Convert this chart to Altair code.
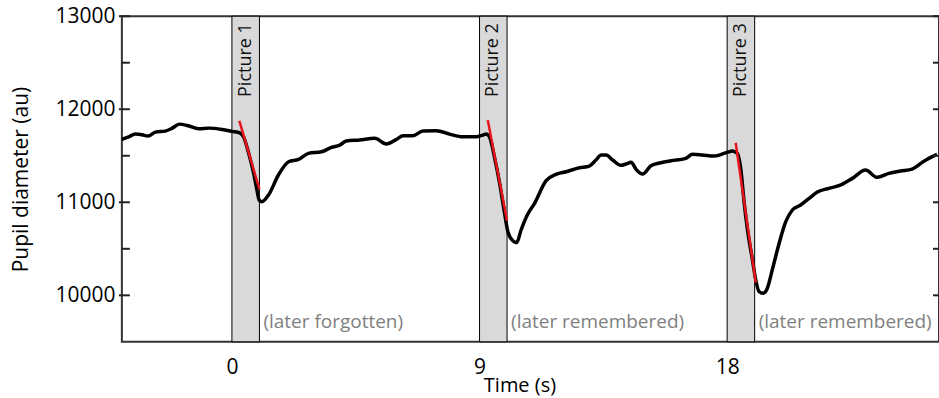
import altair as alt
import pandas as pd

# ---- data ----
time_s = [-4.0, -3.75, -3.51, -3.27, -3.05, -2.78, -2.42, -2.18, -1.91, -1.63,
          -1.21, -0.85, -0.36, 0.0, 0.30, 0.42, 0.61, 0.79, 0.91, 0.99,
          1.09, 1.33, 1.69, 2.06, 2.42, 2.78, 3.26, 3.62, 3.92, 4.16,
          4.64, 5.19, 5.61, 5.98, 6.22, 6.58, 6.94, 7.43, 7.91, 8.39,
          8.88, 9.12, 9.24, 9.36, 9.54, 9.73, 9.91, 10.03, 10.21, 10.35,
          10.51, 10.75, 11.00, 11.42, 11.78, 12.15, 12.63, 12.99, 13.23, 13.42,
          13.60, 13.84, 14.14, 14.32, 14.51, 14.69, 14.93, 15.23, 15.59, 15.96,
          16.50, 16.74, 17.10, 17.53, 18.01, 18.19, 18.37, 18.50, 18.62, 18.74,
          18.92, 19.04, 19.16, 19.31, 19.46, 19.64, 19.89, 20.13, 20.37, 20.67,
          20.98, 21.28, 21.70, 22.06, 22.55, 23.03, 23.45, 23.88, 24.30, 24.72,
          25.09, 25.33, 25.63]
pupil_au = [11676, 11704, 11733, 11726, 11712, 11754, 11765, 11794, 11840, 11826,
            11790, 11797, 11783, 11762, 11744, 11704, 11526, 11311, 11132, 11024,
            11006, 11078, 11293, 11436, 11461, 11526, 11543, 11590, 11615, 11658,
            11669, 11687, 11626, 11676, 11715, 11715, 11765, 11768, 11733, 11704,
            11704, 11722, 11733, 11704, 11489, 11204, 10882, 10684, 10587, 10566,
            10702, 10871, 10989, 11232, 11300, 11328, 11371, 11389, 11454, 11508,
            11508, 11454, 11397, 11411, 11429, 11354, 11304, 11393, 11425, 11446,
            11472, 11515, 11508, 11497, 11537, 11550, 11526, 11347, 10989, 10702,
            10380, 10165, 10040, 10023, 10076, 10273, 10560, 10791, 10917, 10971,
            11043, 11110, 11150, 11178, 11257, 11347, 11268, 11311, 11336, 11357,
            11429, 11472, 11515]

fit_picture = ["Picture 1", "Picture 1", "Picture 2", "Picture 2", "Picture 3", "Picture 3"]
fit_time = [0.27, 1.00, 9.30, 10.00, 18.31, 19.04]
fit_pupil = [11876, 11140, 11883, 10802, 11640, 10137]

band_labels = ["Picture 1", "Picture 2", "Picture 3"]
band_start = [0, 9, 18]
band_end = [1, 10, 19]
band_notes = ["(later forgotten)", "(later remembered)", "(later remembered)"]

x_tick_values = [0, 9, 18]
y_major_ticks = [10000, 11000, 12000, 13000]
y_minor_ticks = [10500, 11500, 12500]
x_domain = [-4, 25.7]
y_domain = [9500, 13000]

W, H = 818, 326
FONT = "Open Sans"

curve = pd.DataFrame({"t": time_s, "p": pupil_au})
fits = pd.DataFrame({"pic": fit_picture, "t": fit_time, "p": fit_pupil})
bands = pd.DataFrame({"label": band_labels, "start": band_start, "end": band_end, "note": band_notes})
major = pd.DataFrame({"v": y_major_ticks})
minor = pd.DataFrame({"v": y_minor_ticks})
allticks = pd.DataFrame({"v": y_major_ticks + y_minor_ticks})

xs = alt.Scale(domain=x_domain, nice=False, zero=False)
ys = alt.Scale(domain=y_domain, nice=False, zero=False)

x_axis = alt.Axis(values=x_tick_values, ticks=False, domain=False, grid=False,
                  labelFont=FONT, labelFontSize=21, labelColor="#000", labelPadding=15,
                  title="Time (s)", titleFont=FONT, titleFontSize=20, titleFontWeight="normal",
                  titleColor="#000", titleX=398, titleY=44, titleBaseline="middle", titleAnchor="middle")
y_axis = alt.Axis(values=y_major_ticks, ticks=False, domain=False, grid=False, format="d",
                  labelFont=FONT, labelFontSize=21, labelColor="#000", labelPadding=7,
                  title="Pupil diameter (au)", titleFont=FONT, titleFontSize=21,
                  titleFontWeight="normal", titleColor="#000", titleX=-90, titleY=163)

rects = alt.Chart(bands).mark_rect(fill="#d9d9d9", stroke="#000", strokeWidth=1).encode(
    x=alt.X("start:Q", scale=xs, axis=x_axis),
    x2="end:Q",
    y=alt.value(0), y2=alt.value(H),
)

band_text = alt.Chart(bands).transform_calculate(mid="(datum.start + datum.end) / 2").mark_text(
    angle=270, align="right", baseline="middle", font=FONT, fontSize=18, color="#111"
).encode(x=alt.X("mid:Q", scale=xs), y=alt.value(7), text="label:N")

notes = alt.Chart(bands).mark_text(
    align="left", baseline="middle", dx=4, font=FONT, fontSize=19, color="#808080"
).encode(x=alt.X("end:Q", scale=xs), y=alt.value(306), text="note:N")

line = alt.Chart(curve).mark_line(color="#000", strokeWidth=3.5, interpolate="monotone").encode(
    x=alt.X("t:Q", scale=xs),
    y=alt.Y("p:Q", scale=ys, axis=y_axis),
)

red = alt.Chart(fits).mark_line(color="#e8141c", strokeWidth=2.5).encode(
    x=alt.X("t:Q", scale=xs), y=alt.Y("p:Q", scale=ys), detail="pic:N"
)

tick_major = alt.Chart(major).mark_rule(color="#222", strokeWidth=2).encode(
    y=alt.Y("v:Q", scale=ys), x=alt.value(-3), x2=alt.value(8))
tick_minor = alt.Chart(minor).mark_rule(color="#222", strokeWidth=2).encode(
    y=alt.Y("v:Q", scale=ys), x=alt.value(0), x2=alt.value(8))
tick_right = alt.Chart(allticks).mark_rule(color="#222", strokeWidth=2).encode(
    y=alt.Y("v:Q", scale=ys), x=alt.value(W - 6), x2=alt.value(W))

chart = alt.layer(rects, band_text, line, red, tick_major, tick_minor, tick_right, notes).properties(
    width=W, height=H,
    autosize=alt.AutoSizeParams(type="none"),
    padding={"left": 122, "top": 16, "right": 0, "bottom": 56},
).configure(background="white").configure_view(stroke="#333", strokeWidth=2)

chart.save("out.html", embed_options={"renderer": "svg", "actions": False})
